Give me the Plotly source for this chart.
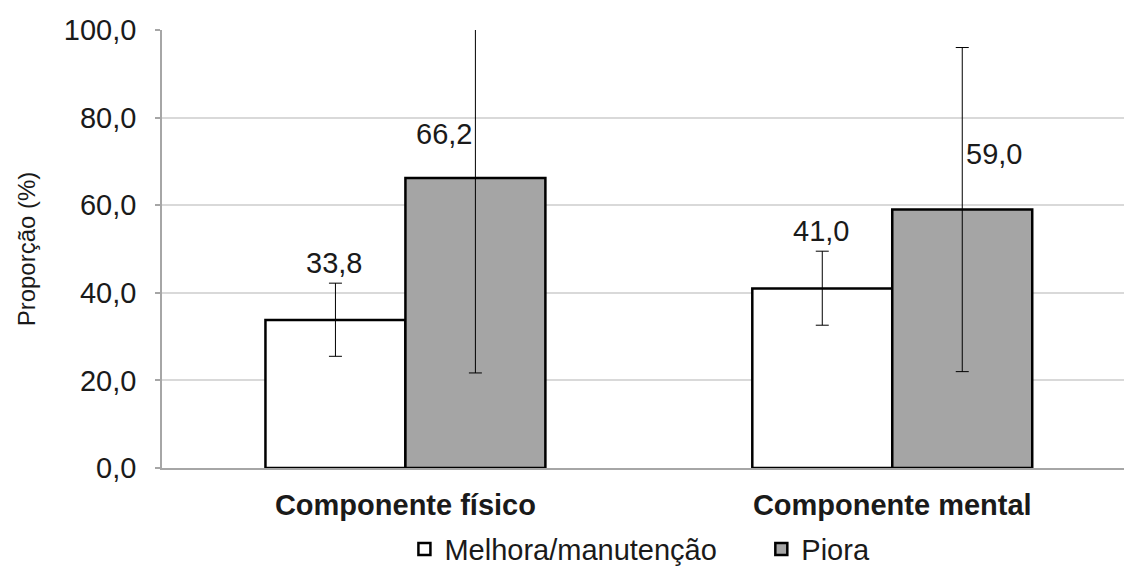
import plotly.graph_objects as go

categories = [0, 1]
category_labels = ["Componente físico", "Componente mental"]
series_names = ["Melhora/manutenção", "Piora"]
melhora = [33.8, 41.0]
melhora_lo = [25.5, 32.6]
melhora_hi = [42.2, 49.5]
piora = [66.2, 59.0]
piora_lo = [21.7, 22.0]
piora_hi = [112.0, 96.0]
value_text_melhora = ["33,8", "41,0"]
value_text_piora = ["66,2", "59,0"]
y_ticks = [0, 20, 40, 60, 80, 100]
y_tick_text = ["0,0", "20,0", "40,0", "60,0", "80,0", "100,0"]

FONT = "Liberation Sans, Arial, sans-serif"
TXT = "#1a1a1a"

def err(vals, lo, hi):
    return dict(type="data", symmetric=False,
                array=[h - v for h, v in zip(hi, vals)],
                arrayminus=[v - l for v, l in zip(vals, lo)],
                color="#000000", thickness=1, width=6.5)

fig = go.Figure()
fig.add_trace(go.Bar(x=categories, y=melhora, name=series_names[0],
                     marker=dict(color="#ffffff", line=dict(color="#000000", width=2.5)),
                     error_y=err(melhora, melhora_lo, melhora_hi), legend="legend"))
fig.add_trace(go.Bar(x=categories, y=piora, name=series_names[1],
                     marker=dict(color="#a5a5a5", line=dict(color="#000000", width=2.5)),
                     error_y=err(piora, piora_lo, piora_hi), legend="legend2"))

annotations = []
for i in range(2):
    annotations.append(dict(x=categories[i], y=melhora_hi[i], text=value_text_melhora[i],
                            xshift=-71, yshift=20, showarrow=False, yanchor="middle",
                            font=dict(family=FONT, size=29, color=TXT)))
gray_shifts = [(-32, 44), (31, 56)]
for i in range(2):
    annotations.append(dict(x=categories[i], y=piora[i], text=value_text_piora[i],
                            xshift=71 + gray_shifts[i][0], yshift=gray_shifts[i][1],
                            showarrow=False, yanchor="middle",
                            font=dict(family=FONT, size=29, color=TXT)))

fig.update_layout(
    width=1124, height=571,
    margin=dict(l=162, r=0, t=30, b=103, autoexpand=False),
    paper_bgcolor="white", plot_bgcolor="white",
    barmode="group", bargap=0.425, bargroupgap=0,
    font=dict(family=FONT, color=TXT, size=29),
    annotations=annotations,
    legend=dict(orientation="h", x=0.252, y=-0.185, xanchor="left", yanchor="middle",
                font=dict(family=FONT, size=29, color=TXT), bgcolor="rgba(0,0,0,0)"),
    legend2=dict(orientation="h", x=0.623, y=-0.185, xanchor="left", yanchor="middle",
                 font=dict(family=FONT, size=29, color=TXT), bgcolor="rgba(0,0,0,0)"),
    showlegend=True,
)
fig.update_xaxes(range=[-0.5, 1.476], tickmode="array", tickvals=categories,
                 ticktext=["<b>%s</b>" % c for c in category_labels],
                 tickfont=dict(family=FONT, size=29, color=TXT),
                 showline=True, linecolor="#a6a6a6", linewidth=1.5, ticks="",
                 showgrid=False, zeroline=False, ticklabelstandoff=10)
fig.update_yaxes(range=[0, 100], tickmode="array", tickvals=y_ticks, ticktext=y_tick_text,
                 tickfont=dict(family=FONT, size=29, color=TXT),
                 showline=True, linecolor="#a6a6a6", linewidth=1.5,
                 ticks="outside", ticklen=5, tickcolor="#a6a6a6", tickwidth=1.5,
                 showgrid=True, gridcolor="#d9d9d9", gridwidth=1.5, zeroline=False,
                 ticklabelstandoff=13,
                 title=dict(text="Proporção (%)", font=dict(family=FONT, size=24, color=TXT),
                            standoff=21))

fig.write_html("out.html", config={"displayModeBar": False},
               post_script="document.body.style.margin='0';document.body.style.padding='0';")
